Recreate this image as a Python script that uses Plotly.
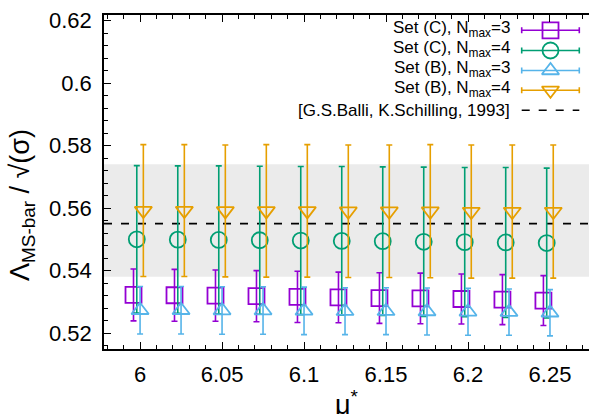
import plotly.graph_objects as go

# ---------------- data ----------------
mu = [6.0, 6.025, 6.05, 6.075, 6.1, 6.125, 6.15, 6.175, 6.2, 6.225, 6.25]

setC_n3 = [0.5322, 0.5321, 0.5320, 0.5318, 0.5316, 0.5314, 0.5312, 0.5311, 0.5309, 0.5307, 0.5304]
setC_n3_err = [0.0083, 0.0083, 0.0082, 0.0082, 0.0082, 0.0081, 0.0081, 0.0081, 0.0080, 0.0080, 0.0080]

setC_n4 = [0.5500, 0.5499, 0.5498, 0.5497, 0.5496, 0.5495, 0.5494, 0.5492, 0.5491, 0.5490, 0.5488]
setC_n4_err = [0.0236, 0.0236, 0.0237, 0.0237, 0.0237, 0.0238, 0.0238, 0.0239, 0.0239, 0.0240, 0.0240]

setB_n3 = [0.5273, 0.5273, 0.5272, 0.5272, 0.5271, 0.5270, 0.5270, 0.5269, 0.5268, 0.5267, 0.5265]
setB_n3_err = [0.0076, 0.0076, 0.0076, 0.0076, 0.0076, 0.0075, 0.0075, 0.0075, 0.0075, 0.0074, 0.0074]

setB_n4 = [0.5592, 0.5592, 0.5591, 0.5591, 0.5591, 0.5590, 0.5590, 0.5590, 0.5589, 0.5589, 0.5589]
setB_n4_err = [0.0211, 0.0211, 0.0211, 0.0212, 0.0212, 0.0212, 0.0212, 0.0213, 0.0213, 0.0213, 0.0213]

balli_value = 0.555
balli_low = 0.538
balli_high = 0.574

series_names = ["Set (C), N<sub>max</sub>=3", "Set (C), N<sub>max</sub>=4",
                "Set (B), N<sub>max</sub>=3", "Set (B), N<sub>max</sub>=4"]
balli_name = "[G.S.Balli, K.Schilling, 1993]"

x_ticks = [6.0, 6.05, 6.1, 6.15, 6.2, 6.25]
x_ticklabels = ["6", "6.05", "6.1", "6.15", "6.2", "6.25"]
y_ticks = [0.52, 0.54, 0.56, 0.58, 0.6, 0.62]
y_ticklabels = ["0.52", "0.54", "0.56", "0.58", "0.6", "0.62"]

# ---------------- style ----------------
W, H = 589, 414
ML, MR, MT, MB = 104, 0, 15, 65
PW, PH = W - ML - MR, H - MT - MB
XR = [5.978, 6.2738]
YR = [0.5149, 0.6218]

colors = ["#9400D3", "#009E73", "#56B4E9", "#E69F00"]
symbols = ["square-open", "circle-open", "triangle-up-open", "triangle-down-open"]
sizes = [16, 16, 15, 15]
offsets = [-0.004, -0.002, 0.0, 0.002]
ys = [setC_n3, setC_n4, setB_n3, setB_n4]
errs = [setC_n3_err, setC_n4_err, setB_n3_err, setB_n4_err]

FONT = "Liberation Sans, Arial, Helvetica, sans-serif"

fig = go.Figure()

for i in range(4):
    fig.add_trace(go.Scatter(
        x=[m + offsets[i] for m in mu], y=ys[i], mode="markers",
        marker=dict(symbol=symbols[i], size=sizes[i], color=colors[i],
                    line=dict(color=colors[i], width=1.8)),
        error_y=dict(type="data", array=errs[i], visible=True,
                     color=colors[i], thickness=1.6, width=3),
        showlegend=False, hoverinfo="skip"))

# invisible trace to activate the top axis
fig.add_trace(go.Scatter(x=[XR[0]], y=[YR[0]], xaxis="x2", yaxis="y", mode="markers",
                         marker=dict(opacity=0), showlegend=False, hoverinfo="skip"))

# ---------------- custom legend (plot-fraction overlay axes) ----------------
def px2fx(px):
    return (px - ML) / PW

def py2fy(py):
    return (MT + PH - py) / PH

rows_py = [30.3, 50.5, 70.5, 90.3, 110.3]
sample_l, sample_r = 521.7, 579.3
sample_c = (sample_l + sample_r) / 2
text_right = 511.7

for i in range(4):
    fig.add_trace(go.Scatter(
        x=[px2fx(sample_c)], y=[py2fy(rows_py[i])], xaxis="x3", yaxis="y3",
        mode="markers",
        marker=dict(symbol=symbols[i], size=sizes[i], color=colors[i],
                    line=dict(color=colors[i], width=1.8)),
        error_x=dict(type="constant", value=px2fx(sample_r) - px2fx(sample_c),
                     visible=True, color=colors[i], thickness=1.6, width=3),
        showlegend=False, hoverinfo="skip", cliponaxis=False))
    fig.add_annotation(x=px2fx(text_right), y=py2fy(rows_py[i]) + 0.004, xref="paper", yref="paper",
                       text=series_names[i], showarrow=False, xanchor="right", yanchor="middle",
                       font=dict(family=FONT, size=17, color="#000000"))

fig.add_annotation(x=px2fx(text_right), y=py2fy(rows_py[4]), xref="paper", yref="paper",
                   text=balli_name, showarrow=False, xanchor="right", yanchor="middle",
                   font=dict(family=FONT, size=17, color="#000000"))
fig.add_shape(type="line", xref="paper", yref="paper",
              x0=px2fx(sample_l), x1=px2fx(sample_r),
              y0=py2fy(rows_py[4]), y1=py2fy(rows_py[4]),
              line=dict(color="#000000", width=1.6, dash="8px,9px"))

# ---------------- reference band & line ----------------
fig.add_shape(type="rect", xref="paper", yref="y", x0=0, x1=1, y0=balli_low, y1=balli_high,
              fillcolor="#EBEBEB", line=dict(width=0), layer="below")
fig.add_shape(type="line", xref="paper", yref="y", x0=0, x1=1, y0=balli_value, y1=balli_value,
              line=dict(color="#000000", width=1.8, dash="8px,9px"), layer="below")

# ---------------- axis titles ----------------
fig.add_annotation(x=(22 - ML) / PW, y=py2fy(205), xref="paper", yref="paper",
                   text="Λ<sub>MS-bar</sub> / √(σ)", textangle=-90, showarrow=False,
                   xanchor="center", yanchor="middle",
                   font=dict(family=FONT, size=27, color="#000000"))
fig.add_annotation(x=0.5, y=py2fy(384), xref="paper", yref="paper",
                   text="μ<sup>*</sup>", showarrow=False, xanchor="center", yanchor="top",
                   font=dict(family=FONT, size=27, color="#000000"))

axis_common = dict(showgrid=False, zeroline=False, showline=True, linecolor="#000000",
                   linewidth=1.5, ticks="inside", ticklen=7, tickwidth=1.2, tickcolor="#000000")

fig.update_layout(
    width=W, height=H,
    margin=dict(l=ML, r=MR, t=MT, b=MB, pad=0),
    paper_bgcolor="#FFFFFF", plot_bgcolor="#FFFFFF",
    font=dict(family=FONT, size=22, color="#000000"),
    showlegend=False,
    xaxis=dict(range=XR, tickvals=x_ticks, ticktext=x_ticklabels,
               tickfont=dict(family=FONT, size=22, color="#000000"),
               ticklabelstandoff=5,
               minor=dict(dtick=0.01, tick0=6.0, ticks="inside", ticklen=4, tickwidth=1.0,
                          tickcolor="#000000", showgrid=False),
               **axis_common),
    xaxis2=dict(range=XR, overlaying="x", side="top", anchor="y", tickvals=x_ticks,
                showticklabels=False,
                minor=dict(dtick=0.01, tick0=6.0, ticks="inside", ticklen=4, tickwidth=1.0,
                           tickcolor="#000000", showgrid=False),
                **axis_common),
    yaxis=dict(range=YR, tickvals=y_ticks, ticktext=y_ticklabels,
               tickfont=dict(family=FONT, size=22, color="#000000"),
               ticklabelstandoff=6,
               minor=dict(dtick=0.004, tick0=0.52, ticks="inside", ticklen=4, tickwidth=1.0,
                          tickcolor="#000000", showgrid=False),
               **axis_common),
    xaxis3=dict(range=[0, 1], overlaying="x", anchor="y3", visible=False, fixedrange=True),
    yaxis3=dict(range=[0, 1], overlaying="y", anchor="x3", visible=False, fixedrange=True),
)

fig.write_html("out.html")
